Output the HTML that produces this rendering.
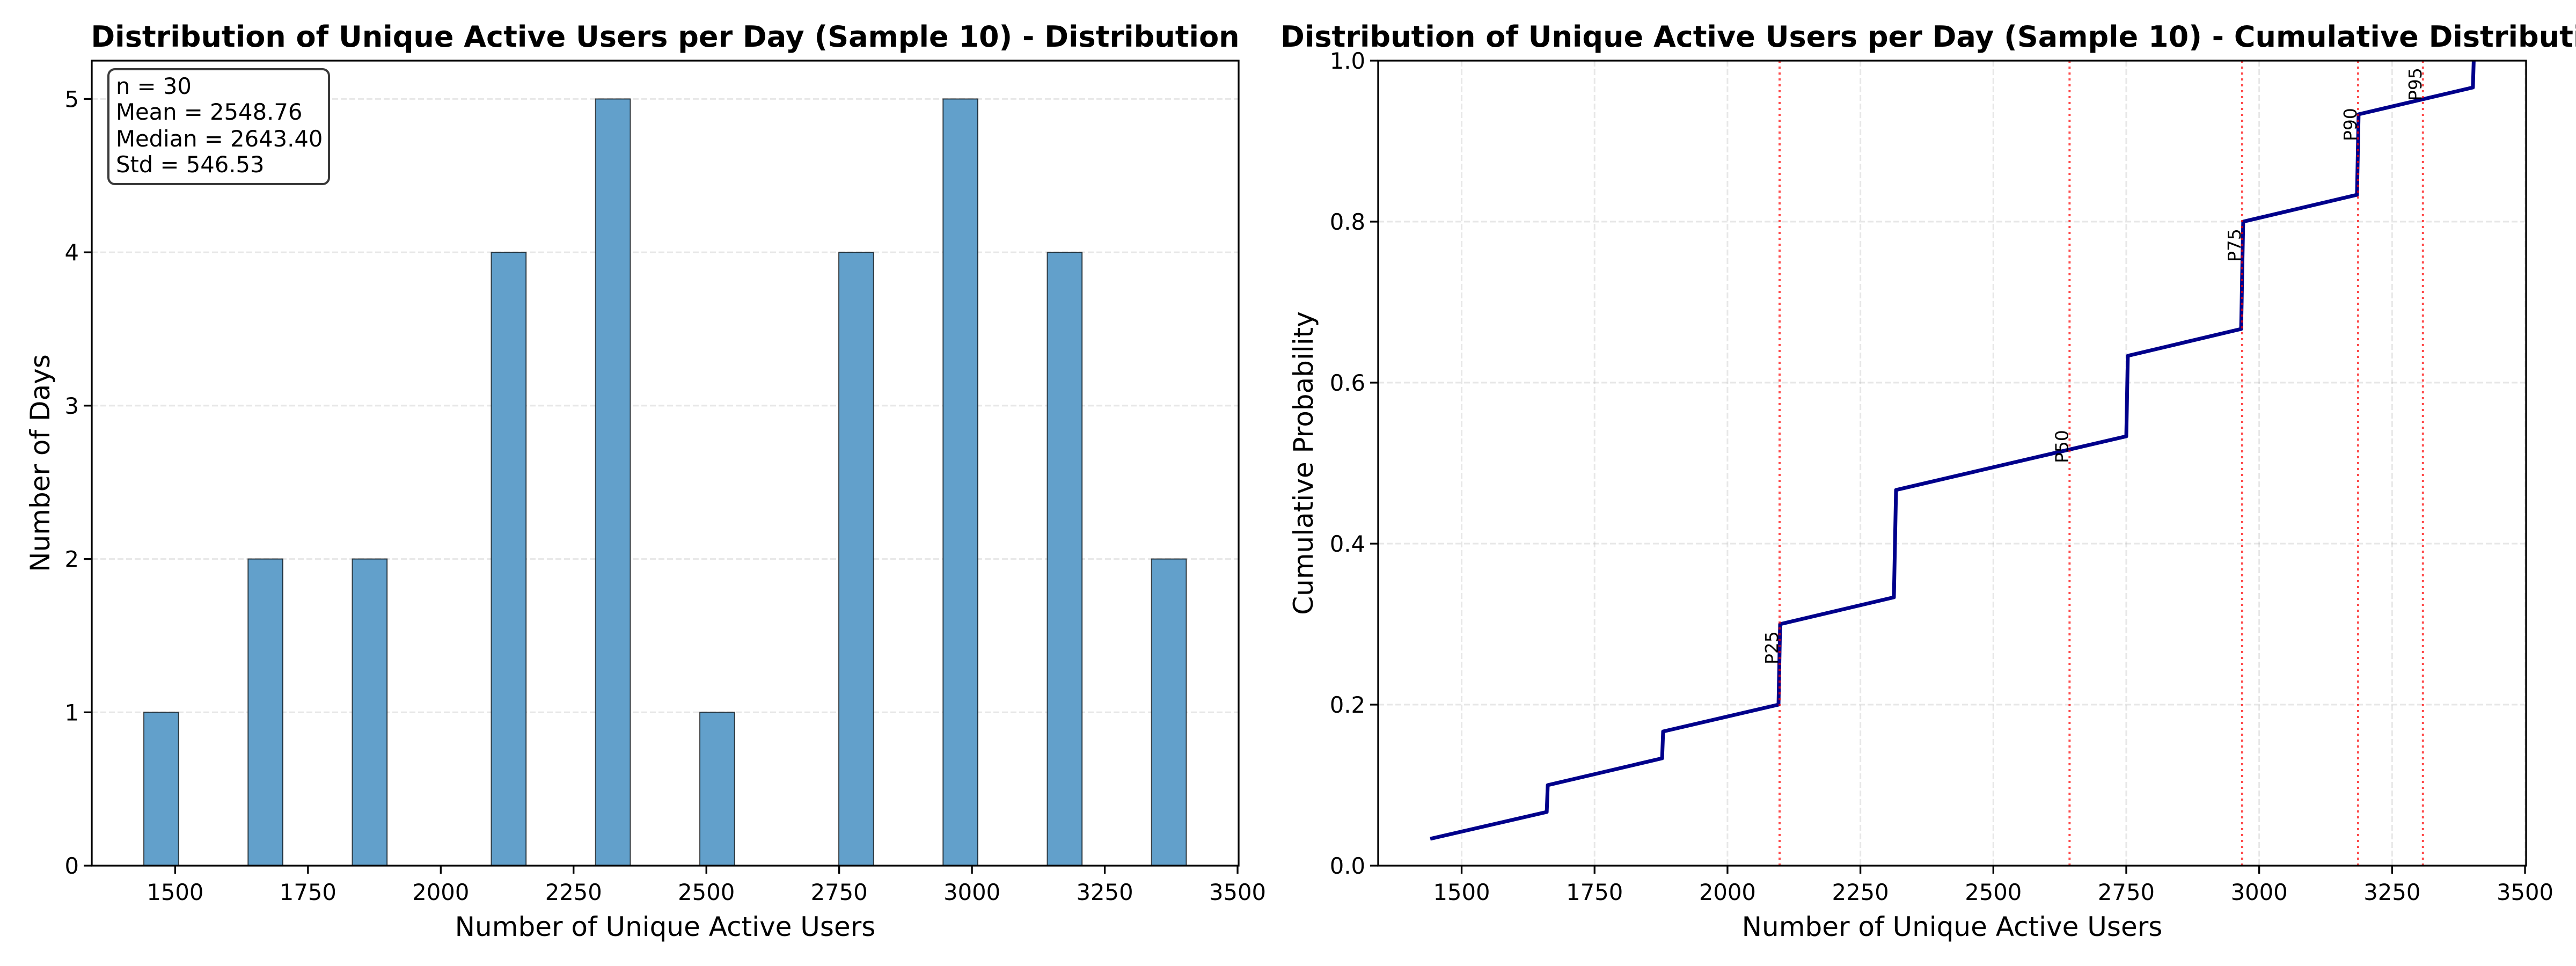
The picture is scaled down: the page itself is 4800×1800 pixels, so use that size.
<!DOCTYPE html>
<html><head><meta charset="utf-8"><style>
html,body{margin:0;padding:0;background:#fff;}
svg{display:block;font-family:"DejaVu Sans","Liberation Sans",sans-serif;}
</style></head><body>
<svg id="fig" xmlns="http://www.w3.org/2000/svg" width="4800" height="1800" viewBox="0 0 4800 1800">
<rect width="4800" height="1800" fill="#fff"/>
<g id="left"></g>
<g id="right"></g>
</svg>
<script>
// ---- data ----
const histMin = 1441;
const histMax = 3403.5;
const histCounts = [1,0,0,2,0,0,2,0,0,0,4,0,0,5,0,0,1,0,0,0,4,0,0,5,0,0,4,0,0,2];
const sortedValues = [1441,1660,1662,1877,1879,2096,2097,2098,2099,2313,2314,2315,2316,2317,2533,2750,2751,2752,2753,2966,2967,2968,2969,2970,3184,3185,3186,3187,3402,3403.5];
const percentileNames = ["P25","P50","P75","P90","P95"];
const percentileLevels = [0.25,0.5,0.75,0.9,0.95];
const percentileValues = [2098,2643.4,2968,3186,3308];
const xTicks = [1500,1750,2000,2250,2500,2750,3000,3250,3500];
const histYTicks = [0,1,2,3,4,5];
const cdfYTicks = [0,0.2,0.4,0.6,0.8,1.0];
const cdfYTickLabels = ["0.0","0.2","0.4","0.6","0.8","1.0"];
const statsLines = ["n = 30","Mean = 2548.76","Median = 2643.40","Std = 546.53"];

const NS = "http://www.w3.org/2000/svg";
function mk(parent, tag, attrs, text){
  const e = document.createElementNS(NS, tag);
  for (const k in attrs) e.setAttribute(k, attrs[k]);
  if (text !== undefined) e.textContent = text;
  parent.appendChild(e);
  return e;
}
const XMIN = 1343, XMAX = 3502;
const PLOT_TOP = 113, PLOT_BOT = 1613;

function panel(g, x0, x1, ymax, yTicks, xGridOn){
  const sx = v => x0 + (v - XMIN) / (XMAX - XMIN) * (x1 - x0);
  const sy = v => PLOT_BOT - v / ymax * (PLOT_BOT - PLOT_TOP);
  yTicks.forEach(t => {
    const l = mk(g, "line", {x1:x0, x2:x1, y1:sy(t), y2:sy(t), stroke:"#b0b0b0", "stroke-opacity":"0.3", "stroke-width":"3", "stroke-dasharray":"11,5"});
    
    
  });
  if (xGridOn) xTicks.forEach(t => {
    const l = mk(g, "line", {x1:sx(t), x2:sx(t), y1:PLOT_TOP, y2:PLOT_BOT, stroke:"#b0b0b0", "stroke-opacity":"0.3", "stroke-width":"3", "stroke-dasharray":"11,5"});
    
    
  });
  return {sx, sy};
}
function axes(g, x0, x1, yTicks, yLabels, title, ylabel, ylabelX, sx, sy){
  const fr = mk(g, "rect", {x:x0, y:PLOT_TOP, width:x1-x0, height:PLOT_BOT-PLOT_TOP, fill:"none", stroke:"#000", "stroke-width":"3.3"});
  
  
  xTicks.forEach(t => {
    const tk = mk(g, "line", {x1:sx(t), x2:sx(t), y1:PLOT_BOT, y2:PLOT_BOT+15, stroke:"#000", "stroke-width":"3.3"});
    
    
    const tl = mk(g, "text", {x:sx(t), y:1677, "font-size":"41.7", "text-anchor":"middle"}, String(t));
    
    
  });
  yTicks.forEach((t,i) => {
    const tk = mk(g, "line", {x1:x0-15, x2:x0, y1:sy(t), y2:sy(t), stroke:"#000", "stroke-width":"3.3"});
    
    
    const tl = mk(g, "text", {x:x0-24, y:sy(t)+15, "font-size":"41.7", "text-anchor":"end"}, yLabels[i]);
    
    
  });
  const xl = mk(g, "text", {x:(x0+x1)/2, y:1744, "font-size":"50", "text-anchor":"middle"}, "Number of Unique Active Users");
  
  
  const yl = mk(g, "text", {x:0, y:0, "font-size":"50", "text-anchor":"middle", transform:`translate(${ylabelX},${(PLOT_TOP+PLOT_BOT)/2}) rotate(-90)`}, ylabel);
  
  
  const tt = mk(g, "text", {x:(x0+x1)/2, y:87, "font-size":"54", "font-weight":"bold", "text-anchor":"middle"}, title);
  
  
}

// ---- left: histogram ----
(function(){
  const g = document.getElementById("left");
  const x0 = 171, x1 = 2308, ymax = 5.25;
  const {sx, sy} = panel(g, x0, x1, ymax, histYTicks, false);
  const bw = (histMax - histMin) / histCounts.length;
  histCounts.forEach((c,i) => {
    if (c <= 0) return;
    const a = histMin + i*bw, b = a + bw;
    const r = mk(g, "rect", {x:sx(a), y:sy(c), width:sx(b)-sx(a), height:sy(0)-sy(c), fill:"rgb(98,160,203)", stroke:"rgba(0,0,0,0.7)", "stroke-width":"2"});
    
    
  });
  const sb = mk(g, "rect", {x:202, y:129, width:411, height:214, rx:12, ry:12, fill:"#fff", stroke:"#3a3a3a", "stroke-width":"4"});
  
  
  const base = [175,223,273,321];
  statsLines.forEach((s,i) => {
    const t = mk(g, "text", {x:216, y:base[i], "font-size":"41.7"}, s);
    
    
  });
  axes(g, x0, x1, histYTicks, histYTicks.map(String), "Distribution of Unique Active Users per Day (Sample 10) - Distribution", "Number of Days", 92, sx, sy);
})();

// ---- right: CDF ----
(function(){
  const g = document.getElementById("right");
  const x0 = 2568, x1 = 4707, ymax = 1.0;
  const {sx, sy} = panel(g, x0, x1, ymax, cdfYTicks, true);
  const n = sortedValues.length;
  const pts = sortedValues.map((v,i) => sx(v).toFixed(1) + "," + sy((i+1)/n).toFixed(1)).join(" ");
  const pl = mk(g, "polyline", {points:pts, fill:"none", stroke:"#00008b", "stroke-width":"7", "stroke-linejoin":"round"});
  
  
  percentileValues.forEach((v,i) => {
    const l = mk(g, "line", {x1:sx(v), x2:sx(v), y1:PLOT_TOP, y2:PLOT_BOT, stroke:"rgba(255,0,0,0.7)", "stroke-width":"4", "stroke-dasharray":"4,7"});
    
    
    const t = mk(g, "text", {x:0, y:0, "font-size":"33", transform:`translate(${sx(v)-3},${sy(percentileLevels[i])}) rotate(-90)`}, percentileNames[i]);
    
    
  });
  axes(g, x0, x1, cdfYTicks, cdfYTickLabels, "Distribution of Unique Active Users per Day (Sample 10) - Cumulative Distribution", "Cumulative Probability", 2446, sx, sy);
})();
</script>
</body></html>
